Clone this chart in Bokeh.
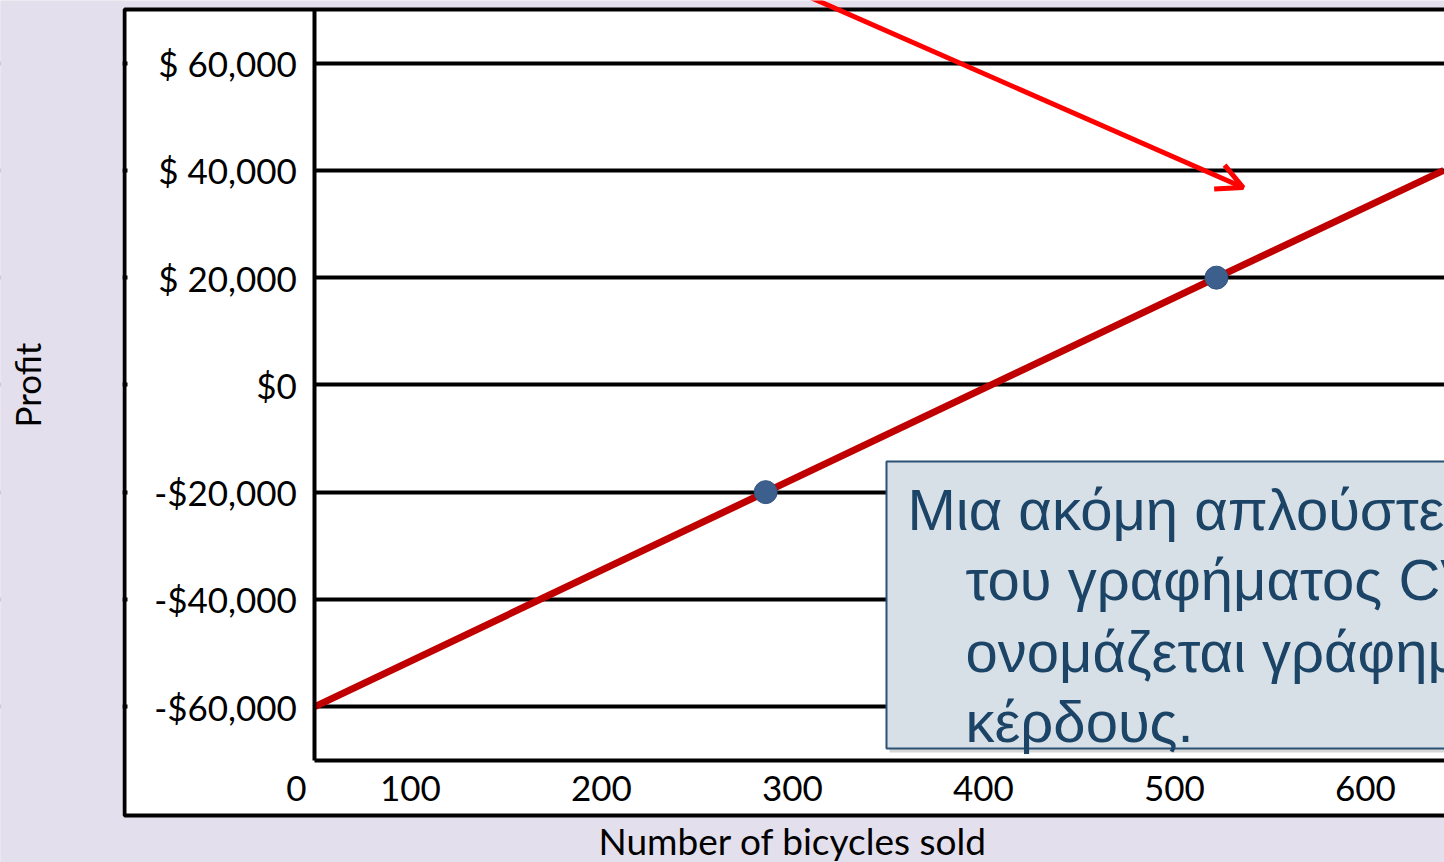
from bokeh.plotting import figure
from bokeh.models import (Range1d, FixedTicker, BoxAnnotation, Label, Arrow, OpenHead, LinearAxis)
from bokeh.embed import file_html
from bokeh.resources import INLINE

# ---- data ----
x_ticks = [40.3, 100, 200, 300, 400, 500, 600]
x_tick_labels = ["0", "100", "200", "300", "400", "500", "600"]
y_ticks = [-60000, -40000, -20000, 0, 20000, 40000, 60000]
y_tick_labels = ["-$60,000", "-$40,000", "-$20,000", "$0", "$ 20,000", "$ 40,000", "$ 60,000"]

profit_x = [50, 286, 522, 641]
profit_y = [-60000, -20000, 20000, 40000]
marker_x = [286, 522]
marker_y = [-20000, 20000]

arrow_from = (288, 75600)
arrow_to = (536, 36800)

callout_lines = ["Μια ακόμη απλούστευση", "του γραφήματος CVP", "ονομάζεται γράφημα", "κέρδους."]
x_title = "Number of bicycles sold"
y_title = "Profit"

# axis placement and visible ranges
X_AXIS_AT = 50          # where the vertical axis line sits
Y_AXIS_AT = -70000      # where the horizontal axis line sits
Y_TOP = 70000
X_RANGE = (-114.6, 641.4)
Y_RANGE = (-89065, 71678)
X_TITLE_SPAN = (50, 551)

FONT = "Lato"
LAV = "#E4DFEC"

p = figure(width=1444, height=862, x_range=Range1d(*X_RANGE), y_range=Range1d(*Y_RANGE),
           min_border_left=0, min_border_right=0, min_border_top=0, min_border_bottom=0,
           border_fill_color=LAV, background_fill_color=LAV, outline_line_color=None,
           toolbar_location=None, output_backend="svg")

# white chart box with black border (slide graphic)
p.add_layout(BoxAnnotation(left=124, right=1500, top=9, bottom=815,
                           left_units="canvas", right_units="canvas", top_units="canvas", bottom_units="canvas",
                           fill_color="white", fill_alpha=1, line_color="black", line_alpha=1, line_width=4,
                           level="image"))


def style(ax, line=True):
    ax.axis_line_color = "black" if line else None
    ax.axis_line_width = 4
    ax.major_tick_line_color = None
    ax.minor_tick_line_color = None
    ax.major_tick_out = 0
    ax.major_tick_in = 0
    ax.minor_tick_out = 0
    ax.major_label_text_font = FONT
    ax.major_label_text_font_size = "35px"
    ax.major_label_text_color = "black"
    ax.axis_label_text_font = FONT
    ax.axis_label_text_font_size = "35px"
    ax.axis_label_text_font_style = "normal"
    ax.axis_label_text_color = "black"


y_axis = p.yaxis[0]
style(y_axis)
y_axis.fixed_location = X_AXIS_AT
y_axis.bounds = (Y_AXIS_AT, Y_TOP)
y_axis.ticker = FixedTicker(ticks=y_ticks)
y_axis.major_label_overrides = dict(zip(y_ticks, y_tick_labels))
y_axis.major_label_standoff = 18
y_axis.axis_label = y_title
y_axis.axis_label_standoff = 103

# horizontal axis: tick labels (line drawn by x_line_axis)
x_axis = p.xaxis[0]
style(x_axis, line=False)
x_axis.fixed_location = Y_AXIS_AT
x_axis.bounds = (x_ticks[0], X_RANGE[1] + 100)
x_axis.ticker = FixedTicker(ticks=x_ticks)
x_axis.major_label_overrides = dict(zip(x_ticks, x_tick_labels))
x_axis.major_label_standoff = 16

x_line_axis = LinearAxis(ticker=FixedTicker(ticks=[]), fixed_location=Y_AXIS_AT,
                         bounds=(X_AXIS_AT, X_RANGE[1] + 100))
style(x_line_axis)
x_line_axis.major_label_standoff = 0
p.add_layout(x_line_axis, "below")

x_title_axis = LinearAxis(ticker=FixedTicker(ticks=[]), fixed_location=Y_AXIS_AT, bounds=X_TITLE_SPAN)
style(x_title_axis, line=False)
x_title_axis.axis_label_text_font_size = "37px"
x_title_axis.major_label_standoff = 0
x_title_axis.axis_label = x_title
x_title_axis.axis_label_standoff = 57
p.add_layout(x_title_axis, "below")

p.xgrid.visible = False
p.ygrid.ticker = FixedTicker(ticks=y_ticks)
p.ygrid.grid_line_color = "black"
p.ygrid.grid_line_width = 4
# keep grid lines inside the plot area only
p.add_layout(BoxAnnotation(left=-30, right=122, left_units="canvas", right_units="canvas",
                           fill_color=LAV, fill_alpha=1, line_color=None, level="underlay"))
p.add_layout(BoxAnnotation(left=127, right=X_AXIS_AT, top=12, bottom=812,
                           left_units="canvas", top_units="canvas", bottom_units="canvas",
                           fill_color="white", fill_alpha=1, line_color=None, level="underlay"))

p.line(profit_x, profit_y, line_color="#C00000", line_width=7)
p.scatter(marker_x, marker_y, size=23, fill_color="#3C5F8E", line_color="#34557F", line_width=1)

p.add_layout(Arrow(end=OpenHead(size=26, line_color="#FF0000", line_width=5),
                   x_start=arrow_from[0], y_start=arrow_from[1], x_end=arrow_to[0], y_end=arrow_to[1],
                   line_color="#FF0000", line_width=5))

# callout
p.add_layout(BoxAnnotation(left=889, right=1500, top=465, bottom=752,
                           left_units="canvas", right_units="canvas", top_units="canvas", bottom_units="canvas",
                           fill_color="#777777", fill_alpha=0.3, line_color=None))
p.add_layout(BoxAnnotation(left=886, right=1500, top=461, bottom=748,
                           left_units="canvas", right_units="canvas", top_units="canvas", bottom_units="canvas",
                           fill_color="#D8E0E7", fill_alpha=1, line_color="#2B5175", line_alpha=1, line_width=2))
xs = [907, 965, 965, 965]
ys = [509, 579, 651, 721]
for t, lx, ly in zip(callout_lines, xs, ys):
    p.add_layout(Label(x=lx, y=ly, x_units="canvas", y_units="canvas", text=t,
                       text_font="Liberation Sans", text_font_size="58px", text_color="#1B4466",
                       text_baseline="alphabetic", text_align="left"))

open("out.html", "w").write(file_html(p, INLINE))
